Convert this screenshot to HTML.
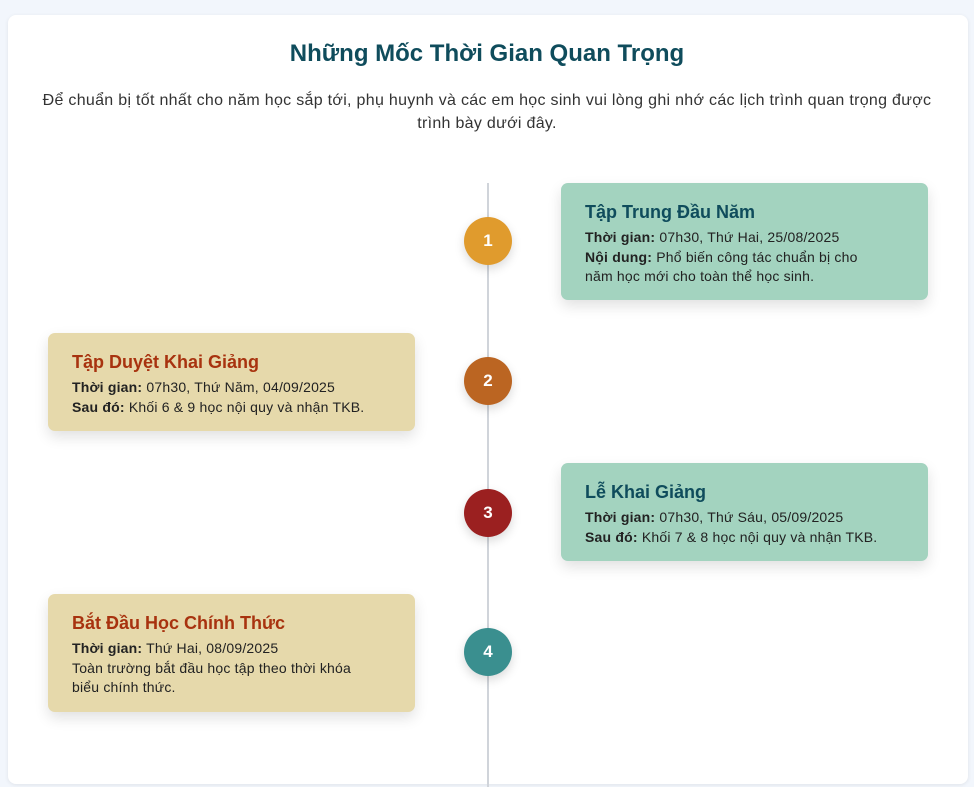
<!DOCTYPE html>
<html><head><meta charset="utf-8"><style>
*{margin:0;padding:0;box-sizing:border-box}
body{width:974px;height:787px;background:#f2f6fc;font-family:"Liberation Sans","DejaVu Sans",sans-serif;position:relative;overflow:hidden}
.main{position:absolute;left:8px;top:15px;width:960px;height:769px;background:#fff;border-radius:8px;box-shadow:0 1px 4px rgba(0,0,0,.08)}
h1{position:absolute;left:0;top:40px;width:974px;text-align:center;font-size:24px;color:#0f4c5c;font-weight:bold}
.sub{position:absolute;left:0;top:89px;width:974px;text-align:center;font-size:16px;line-height:23px;color:#333;letter-spacing:0.3px;white-space:nowrap}
.line{position:absolute;left:487px;top:183px;width:2px;height:604px;background:#d0d4da}
.dot{position:absolute;width:48px;height:48px;border-radius:50%;color:#fff;font-weight:bold;font-size:17px;text-align:center;line-height:48px;box-shadow:0 4px 10px rgba(0,0,0,.15)}
.card{position:absolute;width:367px;border-radius:7px;padding:18px 24px 0;box-shadow:0 6px 14px rgba(0,0,0,.12);font-size:14px;line-height:19.5px;color:#222;letter-spacing:0.2px;white-space:nowrap}
.card h3{font-size:18px;line-height:22px;margin-bottom:5px;letter-spacing:0}
.g{background:#a3d3bf}.g h3{color:#0f4c5c}
.t{background:#e6d9ab}.t h3{color:#a8330f}
</style></head><body>
<div class="main"></div>
<h1>Những Mốc Thời Gian Quan Trọng</h1>
<div class="sub">Để chuẩn bị tốt nhất cho năm học sắp tới, phụ huynh và các em học sinh vui lòng ghi nhớ các lịch trình quan trọng được<br>trình bày dưới đây.</div>
<div class="line"></div>
<div class="dot" style="left:464px;top:217px;background:#e09b2d">1</div>
<div class="dot" style="left:464px;top:357px;background:#bb6522">2</div>
<div class="dot" style="left:464px;top:489px;background:#9b2020">3</div>
<div class="dot" style="left:464px;top:628px;background:#3a8f8f">4</div>
<div class="card g" style="left:561px;top:183px;height:117px"><h3>Tập Trung Đầu Năm</h3><b>Thời gian:</b> 07h30, Thứ Hai, 25/08/2025<br><b>Nội dung:</b> Phổ biến công tác chuẩn bị cho<br>năm học mới cho toàn thể học sinh.</div>
<div class="card t" style="left:48px;top:333px;height:98px"><h3>Tập Duyệt Khai Giảng</h3><b>Thời gian:</b> 07h30, Thứ Năm, 04/09/2025<br><b>Sau đó:</b> Khối 6 &amp; 9 học nội quy và nhận TKB.</div>
<div class="card g" style="left:561px;top:463px;height:98px"><h3>Lễ Khai Giảng</h3><b>Thời gian:</b> 07h30, Thứ Sáu, 05/09/2025<br><b>Sau đó:</b> Khối 7 &amp; 8 học nội quy và nhận TKB.</div>
<div class="card t" style="left:48px;top:594px;height:118px"><h3>Bắt Đầu Học Chính Thức</h3><b>Thời gian:</b> Thứ Hai, 08/09/2025<br>Toàn trường bắt đầu học tập theo thời khóa<br>biểu chính thức.</div>
</body></html>
